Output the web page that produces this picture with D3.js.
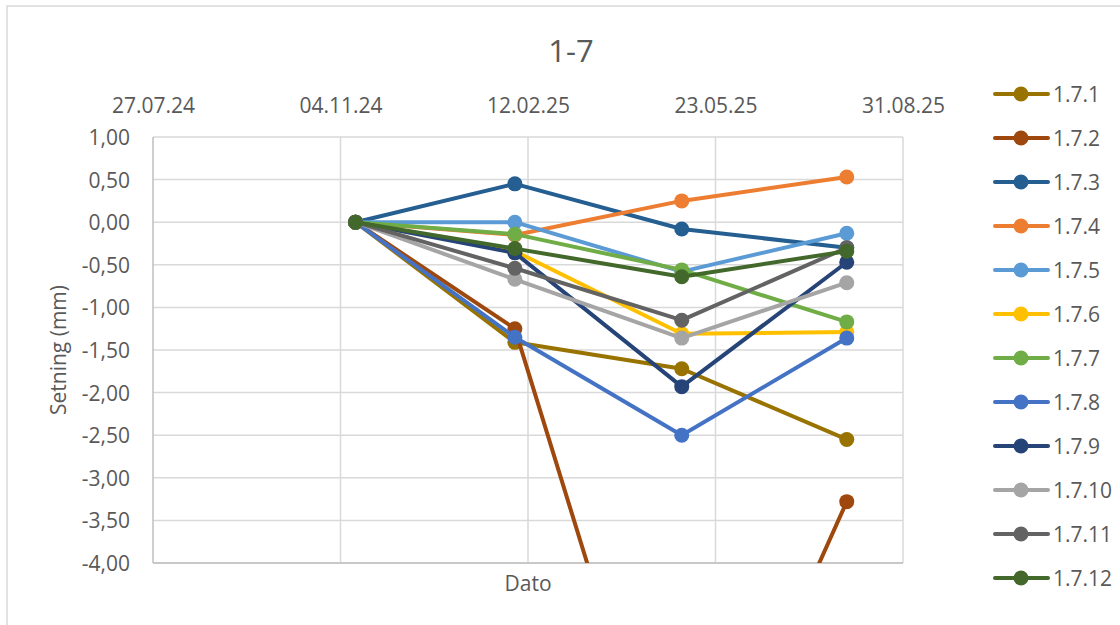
<!DOCTYPE html>
<html>
<head>
<meta charset="utf-8">
<script src="https://cdn.jsdelivr.net/npm/d3@7"></script>
<style>
  html, body { margin: 0; padding: 0; background: #fff; }
  svg { display: block; font-family: "Open Sans", "Noto Sans", sans-serif; }
</style>
</head>
<body>
<svg id="chart" width="1120" height="625"></svg>
<script>
// Measurement dates (dd.mm.yy)
const measureDates = ["12.11.24", "05.02.25", "05.05.25", "01.08.25"];
// Date axis tick labels
const xTickLabels = ["27.07.24", "04.11.24", "12.02.25", "23.05.25", "31.08.25"];
// Settlement axis ticks (mm)
const yTicks = [1, 0.5, 0, -0.5, -1, -1.5, -2, -2.5, -3, -3.5, -4];

// Series names and settlement values (mm)
const seriesNames = ["1.7.1", "1.7.2", "1.7.3", "1.7.4", "1.7.5", "1.7.6",
                     "1.7.7", "1.7.8", "1.7.9", "1.7.10", "1.7.11", "1.7.12"];
const s171 = [0, -1.41, -1.72, -2.55];
const s172 = [0, -1.25, -7.60, -3.28];
const s173 = [0, 0.45, -0.08, -0.30];
const s174 = [0, -0.15, 0.25, 0.53];
const s175 = [0, 0.00, -0.58, -0.13];
const s176 = [0, -0.34, -1.31, -1.29];
const s177 = [0, -0.14, -0.56, -1.17];
const s178 = [0, -1.35, -2.50, -1.36];
const s179 = [0, -0.36, -1.93, -0.47];
const s1710 = [0, -0.67, -1.36, -0.71];
const s1711 = [0, -0.54, -1.15, -0.30];
const s1712 = [0, -0.31, -0.64, -0.34];
const seriesValues = [s171, s172, s173, s174, s175, s176, s177, s178, s179, s1710, s1711, s1712];
const seriesColors = ["#997300", "#9E480E", "#255E91", "#ED7D31", "#5B9BD5", "#FFC000",
                      "#70AD47", "#4472C4", "#264478", "#A5A5A5", "#636363", "#43682B"];

const parse = d3.timeParse("%d.%m.%y");
const svg = d3.select("#chart");
const plot = { left: 153, right: 903, top: 137, bottom: 563 };

const x = d3.scaleTime()
  .domain([parse(xTickLabels[0]), parse(xTickLabels[xTickLabels.length - 1])])
  .range([plot.left, plot.right]);
const y = d3.scaleLinear().domain([-4, 1]).range([plot.bottom, plot.top]);

const textColor = "#595959";
const fmtY = v => d3.format(".2f")(v).replace(".", ",").replace("−", "-");

// Chart frame
svg.append("rect").attr("x", 7).attr("y", 6).attr("width", 1120).attr("height", 640)
  .attr("fill", "#fff").attr("stroke", "#d9d9d9").attr("stroke-width", 1.5);

// Horizontal gridlines
svg.append("g").selectAll("line").data(yTicks).join("line")
  .attr("x1", plot.left).attr("x2", plot.right)
  .attr("y1", d => y(d)).attr("y2", d => y(d))
  .attr("stroke", "#d9d9d9").attr("stroke-width", 1.5);

// Vertical gridlines
const xTickDates = xTickLabels.map(parse);
svg.append("g").selectAll("line").data(xTickDates.slice(1)).join("line")
  .attr("x1", d => x(d)).attr("x2", d => x(d))
  .attr("y1", plot.top).attr("y2", plot.bottom)
  .attr("stroke", "#d9d9d9").attr("stroke-width", 1.5);

// Axis lines
svg.append("line").attr("x1", plot.left).attr("x2", plot.left)
  .attr("y1", plot.top).attr("y2", plot.bottom)
  .attr("stroke", "#bfbfbf").attr("stroke-width", 1.5);
svg.append("line").attr("x1", plot.left).attr("x2", plot.right)
  .attr("y1", plot.bottom).attr("y2", plot.bottom)
  .attr("stroke", "#bfbfbf").attr("stroke-width", 1.5);

// Date tick labels along the top
const xAxis = d3.axisTop(x).tickValues(xTickDates).tickFormat(d3.timeFormat("%d.%m.%y")).tickSize(0).tickPadding(0);
const gx = svg.append("g").attr("transform", "translate(0,113)").call(xAxis);
gx.select(".domain").remove();
gx.selectAll("text").attr("fill", textColor).attr("font-size", 21).attr("font-family", "Open Sans, sans-serif").attr("dy", 0);

// Settlement tick labels
const yAxis = d3.axisLeft(y).tickValues(yTicks).tickFormat(fmtY).tickSize(0).tickPadding(0);
const gy = svg.append("g").attr("transform", "translate(130,0)").call(yAxis);
gy.select(".domain").remove();
gy.selectAll("text").attr("fill", textColor).attr("font-size", 21).attr("font-family", "Open Sans, sans-serif").attr("dy", "0.36em");

// Titles
svg.append("text").attr("x", 571).attr("y", 62).attr("text-anchor", "middle")
  .attr("fill", textColor).attr("font-size", 31).text("1-7");
svg.append("text").attr("transform", "translate(66,350) rotate(-90)").attr("text-anchor", "middle")
  .attr("fill", textColor).attr("font-size", 21).text("Setning (mm)");
svg.append("text").attr("x", 528).attr("y", 591).attr("text-anchor", "middle")
  .attr("fill", textColor).attr("font-size", 21).text("Dato");

// Series
svg.append("clipPath").attr("id", "plotClip").append("rect")
  .attr("x", plot.left).attr("y", plot.top)
  .attr("width", plot.right - plot.left).attr("height", plot.bottom - plot.top);

const dates = measureDates.map(parse);
const line = d3.line().x(d => x(d[0])).y(d => y(d[1]));
const gSeries = svg.append("g").attr("clip-path", "url(#plotClip)");
seriesValues.forEach((vals, i) => {
  const pts = vals.map((v, j) => [dates[j], v]);
  const g = gSeries.append("g");
  g.append("path").attr("d", line(pts)).attr("fill", "none")
    .attr("stroke", seriesColors[i]).attr("stroke-width", 4).attr("stroke-linejoin", "round");
  g.selectAll("circle").data(pts).join("circle")
    .attr("cx", d => x(d[0])).attr("cy", d => y(d[1])).attr("r", 7.5)
    .attr("fill", seriesColors[i]);
});

// Legend
const legend = svg.append("g");
seriesNames.forEach((name, i) => {
  const ly = 94 + i * 44;
  const g = legend.append("g").attr("transform", `translate(0,${ly})`);
  g.append("line").attr("x1", 995).attr("x2", 1048).attr("y1", 0).attr("y2", 0)
    .attr("stroke", seriesColors[i]).attr("stroke-width", 4).attr("stroke-linecap", "round");
  g.append("circle").attr("cx", 1021).attr("cy", 0).attr("r", 7.5).attr("fill", seriesColors[i]);
  g.append("text").attr("x", 1053).attr("y", 0).attr("dy", "0.36em")
    .attr("fill", textColor).attr("font-size", 21).text(name);
});
</script>
</body>
</html>
